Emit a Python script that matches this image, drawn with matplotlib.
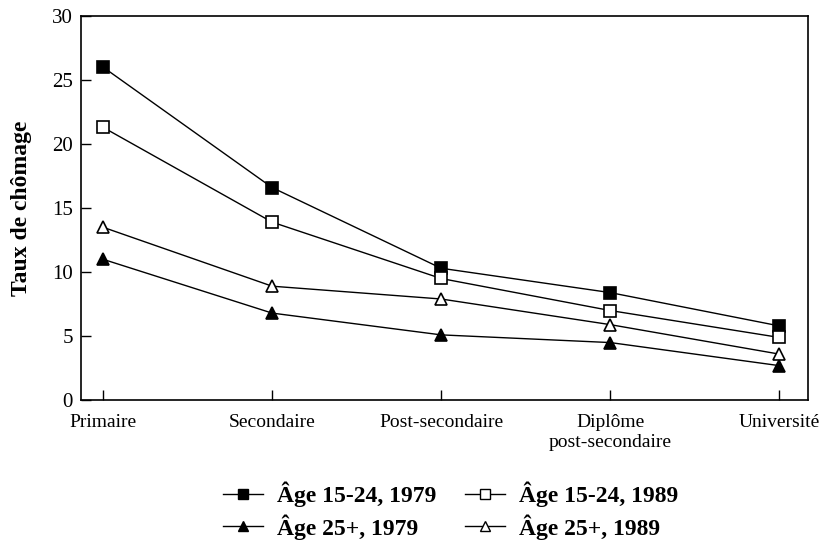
import matplotlib.pyplot as plt
from matplotlib.lines import Line2D

plt.rcParams['font.family'] = ['Liberation Serif', 'DejaVu Serif']

categories = ['Primaire', 'Secondaire', 'Post-secondaire',
              'Diplôme\npost-secondaire', 'Université']
jeunes_1979 = [26.0, 16.6, 10.3, 8.4, 5.8]
jeunes_1989 = [21.3, 13.9, 9.5, 7.0, 4.9]
adultes_1979 = [11.0, 6.8, 5.1, 4.5, 2.7]
adultes_1989 = [13.5, 8.9, 7.9, 5.9, 3.6]
labels = ['Âge 15-24, 1979', 'Âge 15-24, 1989', 'Âge 25+, 1979', 'Âge 25+, 1989']

fig = plt.figure(figsize=(8.27, 5.46), dpi=100)
ax = fig.add_axes([0.098, 0.267, 0.879, 0.704])

x = range(len(categories))
series = [
    (jeunes_1979, 's', 'black'),
    (jeunes_1989, 's', 'white'),
    (adultes_1979, '^', 'black'),
    (adultes_1989, '^', 'white'),
]
for vals, m, fc in series:
    ax.plot(x, vals, color='black', lw=1.0, marker=m, markersize=8.5,
            markerfacecolor=fc, markeredgecolor='black', markeredgewidth=1.2)

ax.set_xlim(-0.13, 4.17)
ax.set_ylim(0, 30)
ax.set_yticks(range(0, 31, 5))
ax.set_xticks(list(x))
ax.set_xticklabels(categories, fontsize=14, linespacing=1.2)
ax.tick_params(axis='y', labelsize=15, pad=6)
ax.tick_params(axis='x', pad=10)
ax.tick_params(direction='in', length=7, width=1)
ax.set_ylabel('Taux de chômage', fontsize=17, fontweight='bold', labelpad=14)
for s in ax.spines.values():
    s.set_linewidth(1.2)

handles = [Line2D([], [], color='black', lw=1.0, marker=m, markersize=7,
                  markerfacecolor=fc, markeredgecolor='black')
           for _, m, fc in series]
# order so that rows are (1979,1989)
fig.legend([handles[0], handles[2], handles[1], handles[3]],
           [labels[0], labels[2], labels[1], labels[3]],
           ncol=2, loc='center', bbox_to_anchor=(0.545, 0.065), frameon=False,
           prop={'weight': 'bold', 'size': 17}, handlelength=1.7,
           handletextpad=0.6, columnspacing=1.2, labelspacing=0.3)

fig.savefig('out.png', dpi=100)
